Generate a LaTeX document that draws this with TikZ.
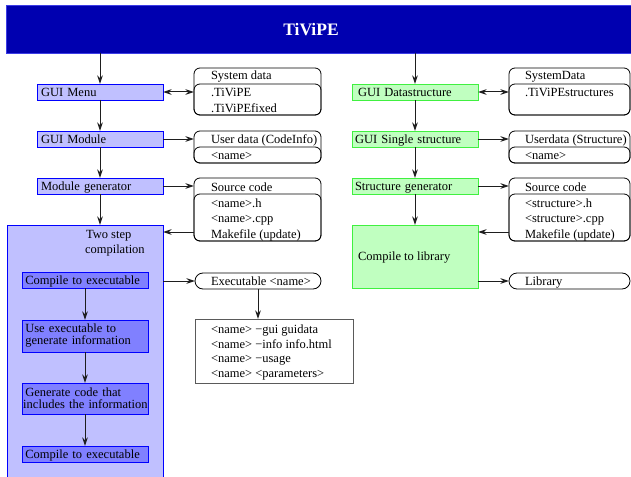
\documentclass[tikz,border=0pt]{standalone}
\usepackage{fontspec}
\setmainfont{Liberation Serif}
\usetikzlibrary{arrows.meta,calc}
\definecolor{barblue}{RGB}{0,0,176}
\definecolor{baredge}{RGB}{60,60,230}
\definecolor{lblue}{RGB}{192,192,255}
\definecolor{mblue}{RGB}{128,128,255}
\definecolor{lgreen}{RGB}{192,255,192}
\definecolor{bgreen}{RGB}{64,240,64}
\definecolor{linegray}{RGB}{30,30,30}
\definecolor{cmdgray}{RGB}{90,90,90}
\begin{document}
\begin{tikzpicture}[x=1pt,y=-1pt,
  font=\fontsize{12.5}{14}\selectfont,
  every node/.style={inner sep=0pt, outer sep=0pt},
  tip/.tip={Stealth[length=8.5pt,width=5.5pt]},
  conn/.style={draw=linegray, line width=1pt, -tip},
  biconn/.style={draw=linegray, line width=1pt, tip-tip},
  bluebox/.style={draw=blue, fill=lblue, line width=0.8pt, rectangle,
    minimum height=16pt, minimum width=126pt, text width=118pt, align=left,
    inner xsep=4pt, text height=8.5pt, text depth=0.5pt},
  greenbox/.style={bluebox, draw=bgreen, fill=lgreen, inner xsep=3pt, text width=120pt},
  innerbox/.style={draw=blue, fill=mblue, line width=0.8pt, rectangle,
    minimum width=126pt, text width=123.5pt, align=left, inner xsep=1.25pt},
  rec/.style={draw=black, line width=0.8pt, rounded corners=6pt, rectangle, anchor=north west},
  pill/.style={draw=black, line width=0.8pt, rounded corners=8pt, rectangle, anchor=north west,
    minimum height=16pt},
  lbl/.style={anchor=base west},
]
\useasboundingbox (0,0) rectangle (631,476);
\clip (0,0) rectangle (631,476);

% title bar
\node[fill=barblue, draw=baredge, line width=0.6pt, anchor=north west,
  minimum width=640pt, minimum height=48pt] (bar) at (6,5) {};
\node[text=white, font=\fontsize{17.5}{20}\selectfont\bfseries] (title) at (311,30) {TiViPE};

% left column
\node[bluebox] (guimenu) at (100,92) {GUI Menu};
\node[bluebox] (guimod) at (100,139) {GUI Module};
\node[bluebox] (modgen) at (100,186) {Module generator};

% two step compilation
\node[draw=blue, fill=lblue, line width=0.8pt, anchor=north west,
  minimum width=156pt, minimum height=280pt] (twostep) at (7,225) {};
\node[lbl] (tsa) at (86,238) {Two step};
\node[lbl] (tsb) at (85,253) {compilation};
\node[innerbox, minimum height=16pt, text height=8.5pt, text depth=0.5pt] (comp1) at (85,280) {\hspace{2pt}Compile to executable};
\node[innerbox, minimum height=32pt, font=\fontsize{12.5}{12}\selectfont] (useexe) at (85,336) {\mbox{\hspace{2pt}Use executable to}\\\mbox{\hspace{2pt}generate information}};
\node[innerbox, minimum height=31pt, font=\fontsize{12.5}{12}\selectfont] (gencode) at (85,398.5) {\mbox{\hspace{2pt}Generate code that}\\\mbox{includes the information}};
\node[innerbox, minimum height=16pt, text height=8.5pt, text depth=0.5pt] (comp2) at (85,454) {\hspace{2pt}Compile to executable};

% left records
\node[rec, minimum width=127pt, minimum height=47pt] (sysdata) at (194,68) {};
\node[rec, minimum width=127pt, minimum height=31pt] (sysdatain) at (194,84) {};
\node[lbl] (sd1) at (211,80) {System data};
\node[lbl] (sd2) at (211,97) {.TiViPE};
\node[lbl] (sd3) at (211,113) {.TiViPEfixed};

\node[rec, minimum width=127pt, minimum height=32pt] (userdata) at (194,131) {};
\node[rec, minimum width=127pt, minimum height=16pt] (userdatain) at (194,147) {};
\node[lbl] (ud1) at (211,143) {User data (CodeInfo)};
\node[lbl] (ud2) at (211,159) {<name>};

\node[rec, minimum width=127pt, minimum height=63pt] (src) at (194,178) {};
\node[rec, minimum width=127pt, minimum height=47pt] (srcin) at (194,194) {};
\node[lbl] (sc1) at (211,191) {Source code};
\node[lbl] (sc2) at (211,207) {<name>.h};
\node[lbl] (sc3) at (211,222.5) {<name>.cpp};
\node[lbl] (sc4) at (211,238) {Makefile (update)};

\node[pill, minimum width=126pt] (exe) at (195,273) {};
\node[lbl] (exet) at (211,285) {Executable <name>};

\node[draw=cmdgray, line width=0.8pt, anchor=north west, minimum width=158pt, minimum height=64pt] (cmds) at (195,319) {};
\node[lbl] (cm1) at (211,333) {<name> −gui guidata};
\node[lbl] (cm2) at (211,348) {<name> −info info.html};
\node[lbl] (cm3) at (211,362.5) {<name> −usage};
\node[lbl] (cm4) at (211,377) {<name> <parameters>};

% right column
\node[greenbox] (guids) at (415,92) {\hspace{3pt}GUI Datastructure};
\node[greenbox] (guiss) at (415,139) {GUI Single structure};
\node[greenbox] (strgen) at (415,186) {Structure generator};
\node[draw=bgreen, fill=lgreen, line width=0.8pt, anchor=north west,
  minimum width=126pt, minimum height=63pt] (complib) at (352,225) {};
\node[lbl] (cl) at (358,260) {Compile to library};

\node[rec, minimum width=121pt, minimum height=47pt] (rsys) at (509,68) {};
\node[rec, minimum width=121pt, minimum height=31pt] (rsysin) at (509,84) {};
\node[lbl] (rs1) at (525,80) {SystemData};
\node[lbl] (rs2) at (525,97) {.TiViPEstructures};

\node[rec, minimum width=121pt, minimum height=32pt] (ruser) at (509,131) {};
\node[rec, minimum width=121pt, minimum height=16pt] (ruserin) at (509,147) {};
\node[lbl] (ru1) at (525,143) {Userdata (Structure)};
\node[lbl] (ru2) at (525,159) {<name>};

\node[rec, minimum width=121pt, minimum height=63pt] (rsrc) at (509,178) {};
\node[rec, minimum width=121pt, minimum height=47pt] (rsrcin) at (509,194) {};
\node[lbl] (rc1) at (525,191) {Source code};
\node[lbl] (rc2) at (525,207) {<structure>.h};
\node[lbl] (rc3) at (525,222.5) {<structure>.cpp};
\node[lbl] (rc4) at (525,238) {Makefile (update)};

\node[pill, minimum width=121pt] (lib) at (509,273) {};
\node[lbl] (libt) at (525,285) {Library};

% connectors left
\draw[conn] (bar.south -| guimenu.north) -- (guimenu.north);
\draw[conn] (guimenu) -- (guimod);
\draw[conn] (guimod) -- (modgen);
\draw[conn] (modgen.south) -- (modgen.south |- twostep.north);
\draw[biconn] (guimenu.east) -- (guimenu.east -| sysdata.west);
\draw[conn] (guimod.east) -- (guimod.east -| userdata.west);
\draw[conn] (modgen.east) -- (modgen.east -| src.west);
\draw[conn] ([yshift=9pt]src.south west) -- ([yshift=9pt]src.south west -| twostep.east);
\draw[conn] (twostep.east |- exe.west) -- (exe.west);
\draw[conn] (exe.south) -- (exe.south |- cmds.north);
\draw[conn] (comp1) -- (useexe);
\draw[conn] (useexe) -- (gencode);
\draw[conn] (gencode) -- (comp2);

% connectors right
\draw[conn] (bar.south -| guids.north) -- (guids.north);
\draw[conn] (guids) -- (guiss);
\draw[conn] (guiss) -- (strgen);
\draw[conn] (strgen) -- (strgen.south |- complib.north);
\draw[biconn] (guids.east) -- (guids.east -| rsys.west);
\draw[conn] (guiss.east) -- (guiss.east -| ruser.west);
\draw[conn] (strgen.east) -- (strgen.east -| rsrc.west);
\draw[conn] ([yshift=9pt]rsrc.south west) -- ([yshift=9pt]rsrc.south west -| complib.east);
\draw[conn] (complib.east |- lib.west) -- (lib.west);
\end{tikzpicture}
\end{document}
